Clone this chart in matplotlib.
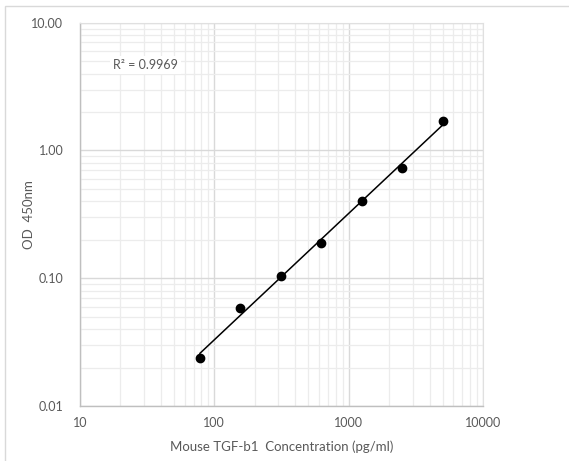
import numpy as np
import matplotlib
matplotlib.use("Agg")
import matplotlib.pyplot as plt
from matplotlib.patches import Rectangle
from matplotlib.ticker import FixedLocator, LogLocator, NullFormatter

# standard curve
conc = [78.125, 156.25, 312.5, 625, 1250, 2500, 5000]
od = [0.0238, 0.0584, 0.105, 0.190, 0.400, 0.723, 1.71]
x_ticks = [10, 100, 1000, 10000]
x_labels = ["10", "100", "1000", "10000"]
y_ticks = [0.01, 0.1, 1, 10]
y_labels = ["0.01", "0.10", "1.00", "10.00"]
r2_text = "R² = 0.9969"

plt.rcParams['font.family'] = ['Lato', 'DejaVu Sans']
txt = "#595959"

fig = plt.figure(figsize=(5.69, 4.61), dpi=100)
fig.patches.append(Rectangle((5/569, -0.1), 1.1, 1 - 6/461 + 0.1,
                             transform=fig.transFigure, fill=False,
                             edgecolor="#d9d9d9", linewidth=1.0))
ax = fig.add_axes([80/569, 1 - 406/461, 403/569, (406 - 22.7)/461])

ax.set_xscale("log")
ax.set_yscale("log")
ax.set_xlim(10, 10000)
ax.set_ylim(0.01, 10)

ax.xaxis.set_major_locator(FixedLocator(x_ticks))
ax.set_xticklabels(x_labels)
ax.yaxis.set_major_locator(FixedLocator(y_ticks))
ax.set_yticklabels(y_labels)
ax.xaxis.set_minor_locator(LogLocator(base=10, subs=np.arange(2, 10)))
ax.yaxis.set_minor_locator(LogLocator(base=10, subs=np.arange(2, 10)))
ax.xaxis.set_minor_formatter(NullFormatter())
ax.yaxis.set_minor_formatter(NullFormatter())

ax.grid(which="major", color="#d9d9d9", linewidth=1.0)
ax.grid(which="minor", color="#ececec", linewidth=0.9)
ax.set_axisbelow(True)
ax.tick_params(which="both", length=0, labelsize=9, labelcolor=txt)
ax.tick_params(axis="y", pad=12)
ax.tick_params(axis="x", pad=8)

for side in ["top", "right"]:
    ax.spines[side].set_color("#e0e0e0")
for side in ["left", "bottom"]:
    ax.spines[side].set_color("#bfbfbf")
    ax.spines[side].set_linewidth(1.0)

# power trendline fitted in log space
lx = np.log10(conc)
ly = np.log10(od)
b, a = np.polyfit(lx, ly, 1)
xf = np.array([conc[0], conc[-1]])
ax.plot(xf, 10**a * xf**b, color="black", linewidth=1.1, zorder=3)
ax.plot(conc, od, "o", color="black", markersize=6, zorder=4)

ax.text(0.082, 0.89, r2_text, transform=ax.transAxes, fontsize=9,
        color=txt, va="center", ha="left",
        bbox=dict(facecolor="white", edgecolor="none", pad=2))

ax.set_xlabel("Mouse TGF-b1  Concentration (pg/ml)", fontsize=9.5,
              color=txt, labelpad=8)
ax.set_ylabel("OD  450nm", fontsize=9.5, color=txt)
ax.yaxis.set_label_coords(-0.112, 0.5)

fig.savefig("out.png", dpi=100)
